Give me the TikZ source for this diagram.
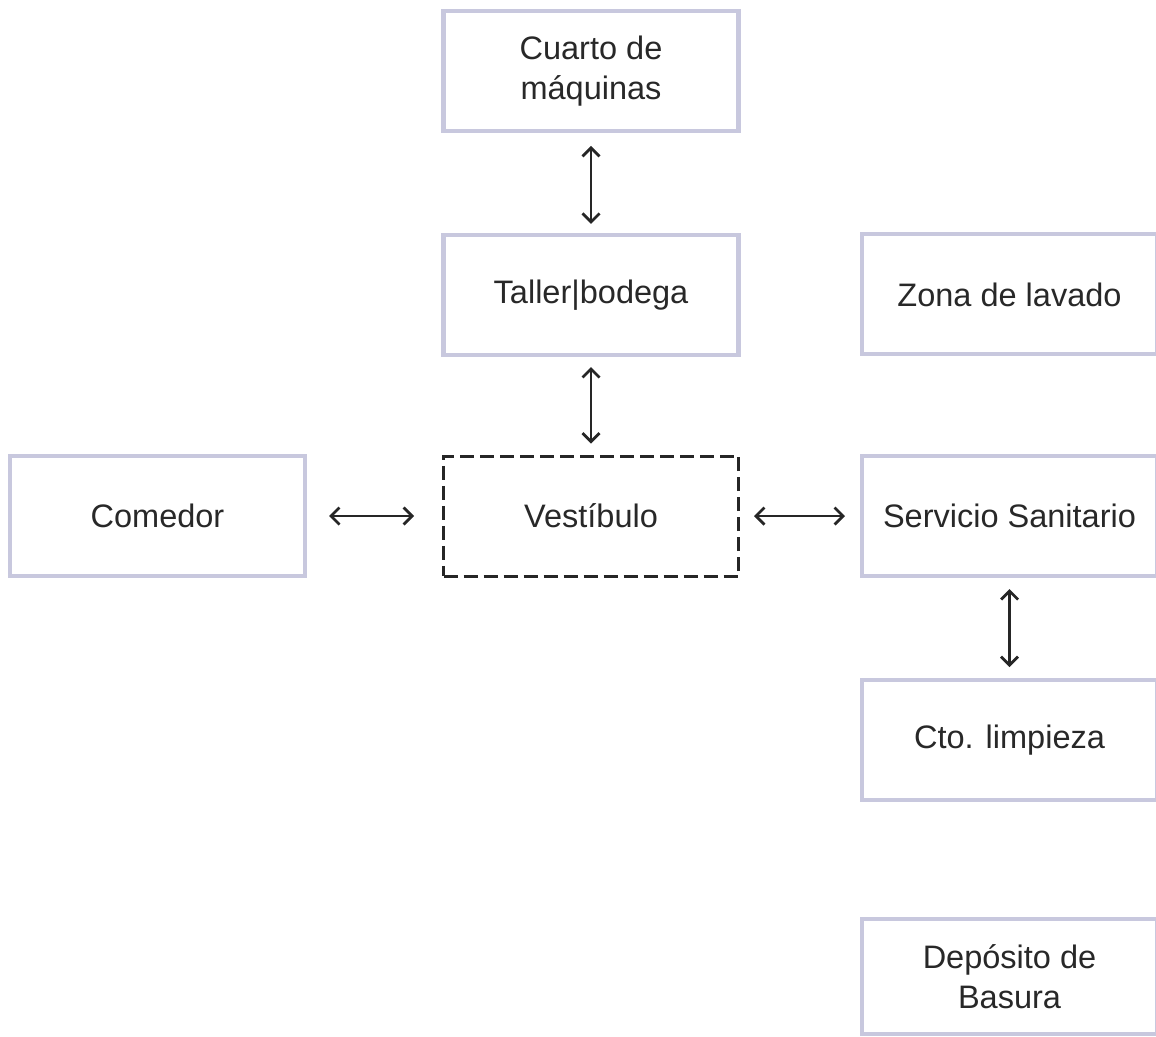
\documentclass[tikz,border=0pt]{standalone}
\usepackage{fontspec}
\setmainfont{Liberation Sans}
\usepackage{tikz}
\usetikzlibrary{positioning, arrows.meta}

\definecolor{bordelila}{RGB}{200,200,222}
\definecolor{textogris}{RGB}{40,40,40}

\begin{document}
\begin{tikzpicture}[
	espacio/.style={rectangle, draw=bordelila, line width=2.3pt, minimum width=5.9cm, minimum height=2.4cm,
		align=center, text=textogris, font=\fontsize{18.5}{23}\selectfont},
	espaciocentral/.style={espacio, draw=black!85, line width=1.7pt, dash pattern=on 0.28cm off 0.12cm},
	flujo/.style={{Straight Barb[length=1.7mm, width=3.4mm]}-{Straight Barb[length=1.7mm, width=3.4mm]}, line width=1.6pt, black!85}
]
	\useasboundingbox (0,0) rectangle (23.12,-20.72);

	% Espacio central
	\node[espaciocentral] (vestibulo) at (11.82,-10.32) {Vestíbulo};

	% Columna central
	\node[espacio, above=1.95cm of vestibulo] (taller) {Taller|bodega};
	\node[espacio, above=2.0cm of taller] (cuarto) {Cuarto de\\máquinas};

	% Izquierda
	\node[espacio, left=2.7cm of vestibulo] (comedor) {Comedor};

	% Columna derecha
	\node[espacio, right=2.4cm of vestibulo] (servicio) {Servicio Sanitario};
	\node[espacio, above=1.95cm of servicio] (lavado) {Zona de lavado};
	\node[espacio, below=2.0cm of servicio] (limpieza) {Cto. limpieza};
	\node[espacio, below=2.3cm of limpieza, minimum height=2.3cm] (basura) {Depósito de\\Basura};

	% Relaciones
	\draw[flujo, shorten <=0.26cm, shorten >=0.18cm] (cuarto) -- (taller);
	\draw[flujo, shorten <=0.2cm, shorten >=0.22cm] (taller) -- (vestibulo);
	\draw[flujo, shorten <=0.44cm, shorten >=0.56cm] (comedor) -- (vestibulo);
	\draw[flujo, shorten <=0.28cm, shorten >=0.3cm] (vestibulo) -- (servicio);
	\draw[flujo, shorten <=0.22cm, shorten >=0.22cm] (servicio) -- (limpieza);
\end{tikzpicture}
\end{document}
